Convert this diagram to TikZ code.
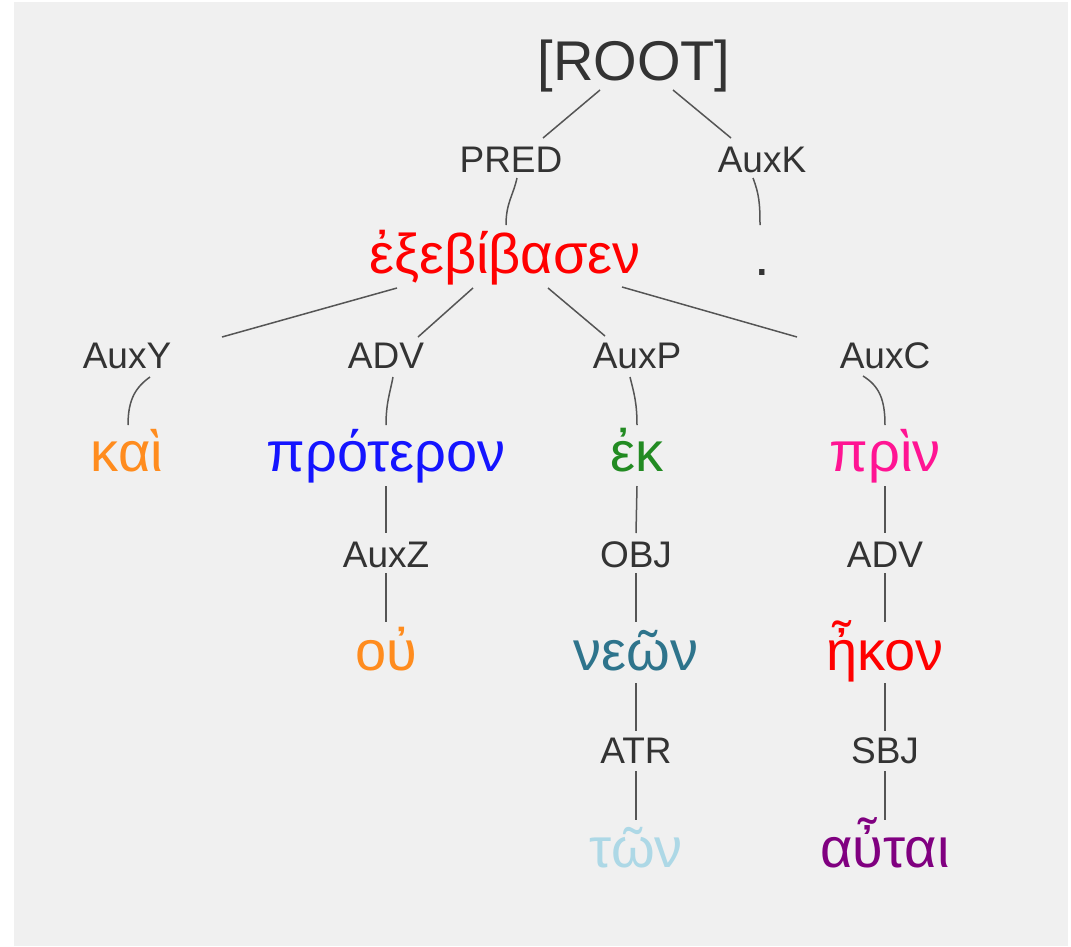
\documentclass[tikz,border=0pt]{standalone}
\usepackage{fontspec}
\setmainfont{Liberation Sans}
\usetikzlibrary{calc}
\definecolor{bg}{HTML}{F0F0F0}
\definecolor{lbl}{HTML}{333333}
\definecolor{edge}{HTML}{555555}
\definecolor{cRed}{HTML}{FF0000}
\definecolor{cOrange}{HTML}{FF8C1E}
\definecolor{cBlue}{HTML}{1414FF}
\definecolor{cGreen}{HTML}{228B22}
\definecolor{cPink}{HTML}{FF1493}
\definecolor{cTeal}{HTML}{2E748C}
\definecolor{cLight}{HTML}{ADD8E6}
\definecolor{cPurple}{HTML}{800080}
\begin{document}
\begin{tikzpicture}[x=1pt,y=-1pt,
  rootnode/.style={anchor=base,inner sep=0pt,text=lbl,font=\fontsize{56}{60}\selectfont},
  relnode/.style={anchor=base,inner sep=0pt,text=lbl,font=\fontsize{37}{40}\selectfont},
  wordnode/.style={anchor=base,inner sep=0pt,font=\fontsize{56}{60}\selectfont},
  conn/.style={draw=edge,line width=1.5pt}]
\useasboundingbox (0,0) rectangle (1071,946);
\fill[white] (0,0) rectangle (1071,946);
\fill[bg] (14,2) rectangle (1068,946);

% nodes
\node[rootnode] (root) at (634,80) {[ROOT]};
\node[relnode] (pred) at (511,172) {PRED};
\node[relnode] (auxk) at (762,172) {AuxK};
\node[wordnode,text=cRed] (verb) at (505,273) {ἐξεβίβασεν};
\node[wordnode,text=lbl] (dot) at (762,275) {.};
\node[relnode] (auxy) at (127,368) {AuxY};
\node[relnode] (adv1) at (386,368) {ADV};
\node[relnode] (auxp) at (637,368) {AuxP};
\node[relnode] (auxc) at (885,368) {AuxC};
\node[wordnode,text=cOrange] (kai) at (127,471) {καὶ};
\node[wordnode,text=cBlue] (prot) at (386,471) {πρότερον};
\node[wordnode,text=cGreen] (ek) at (637,471) {ἐκ};
\node[wordnode,text=cPink] (prin) at (885,471) {πρὶν};
\node[relnode] (auxz) at (386,567) {AuxZ};
\node[relnode] (obj) at (636,567) {OBJ};
\node[relnode] (adv2) at (885,567) {ADV};
\node[wordnode,text=cOrange] (ou) at (386,670) {οὐ};
\node[wordnode,text=cTeal] (neon) at (636,670) {νεῶν};
\node[wordnode,text=cRed] (hkon) at (885,670) {ἦκον};
\node[relnode] (atr) at (636,763) {ATR};
\node[relnode] (sbj) at (885,763) {SBJ};
\node[wordnode,text=cLight] (ton) at (636,867) {τῶν};
\node[wordnode,text=cPurple] (autai) at (885,867) {αὖται};

% connectors
\draw[conn] ($(root.base)+(-34,10)$) -- ($(pred.base)+(32,-34)$);
\draw[conn] ($(root.base)+(39,10)$) -- ($(auxk.base)+(-31,-34)$);
\draw[conn] ($(pred.base)+(6,6)$) .. controls +(-4,18) and +(0,-22) .. ($(verb.base)+(1,-48)$);
\draw[conn] ($(auxk.base)+(-9,6)$) .. controls +(6,16) and +(0,-22) .. ($(dot.base)+(-2,-50)$);

\draw[conn] ($(verb.base)+(-108,15)$) -- ($(auxy.base)+(95,-31)$);
\draw[conn] ($(verb.base)+(-32,15)$) -- ($(adv1.base)+(32,-31)$);
\draw[conn] ($(verb.base)+(43,15)$) -- ($(auxp.base)+(-32,-32)$);
\draw[conn] ($(verb.base)+(117,14)$) -- ($(auxc.base)+(-88,-31)$);

\draw[conn] ($(auxy.base)+(23,9)$) .. controls +(-14,10) and +(0,-26) .. ($(kai.base)+(1,-46)$);
\draw[conn] ($(adv1.base)+(7,9)$) .. controls +(-3,16) and +(0,-22) .. ($(prot.base)+(0,-46)$);
\draw[conn] ($(auxp.base)+(-7,9)$) .. controls +(4,16) and +(0,-22) .. ($(ek.base)+(0,-46)$);
\draw[conn] ($(auxc.base)+(-22,8)$) .. controls +(16,10) and +(0,-26) .. ($(prin.base)+(0,-46)$);

\draw[conn] ($(prot.base)+(0,15)$) -- ($(auxz.base)+(0,-34)$);
\draw[conn] ($(auxz.base)+(0,6)$) -- ($(ou.base)+(0,-48)$);
\draw[conn] ($(ek.base)+(0,15)$) -- ($(obj.base)+(0,-34)$);
\draw[conn] ($(obj.base)+(0,6)$) -- ($(neon.base)+(0,-48)$);
\draw[conn] ($(prin.base)+(0,15)$) -- ($(adv2.base)+(0,-34)$);
\draw[conn] ($(adv2.base)+(0,6)$) -- ($(hkon.base)+(0,-48)$);
\draw[conn] ($(neon.base)+(0,13)$) -- ($(atr.base)+(0,-32)$);
\draw[conn] ($(atr.base)+(0,8)$) -- ($(ton.base)+(0,-47)$);
\draw[conn] ($(hkon.base)+(0,13)$) -- ($(sbj.base)+(0,-32)$);
\draw[conn] ($(sbj.base)+(0,8)$) -- ($(autai.base)+(0,-47)$);
\end{tikzpicture}
\end{document}
